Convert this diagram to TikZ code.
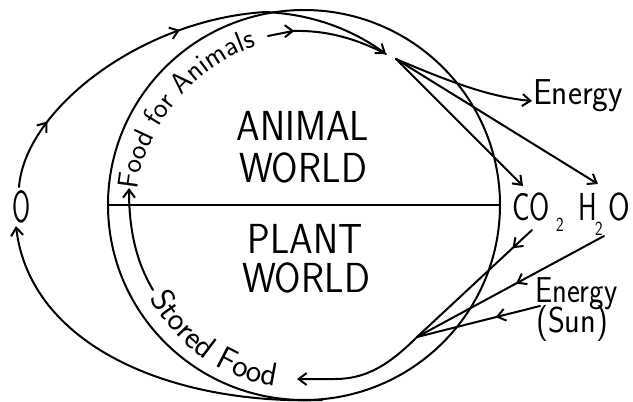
\documentclass[tikz,border=0pt]{standalone}
\usepackage{fontspec}
\usetikzlibrary{arrows.meta,decorations.markings,decorations.text}
\tikzset{
  ln/.style={line width=2pt, line cap=round, line join=round},
  tipend/.style={-{Straight Barb[length=8pt,width=12pt]}},
  marr/.style={postaction={decorate},decoration={markings,mark=at position #1 with {\arrow{Straight Barb[length=8pt,width=12pt]}}}},
  marrtwo/.style 2 args={postaction={decorate},decoration={markings,
     mark=at position #1 with {\arrow{Straight Barb[length=8pt,width=12pt]}},
     mark=at position #2 with {\arrow{Straight Barb[length=8pt,width=12pt]}}}},
  bigtxt/.style={font=\sffamily\fontsize{42}{42}\selectfont, inner sep=0pt, anchor=base},
  chem/.style={font=\sffamily\fontsize{39}{39}\selectfont, inner sep=0pt, anchor=base west},
  subs/.style={font=\sffamily\fontsize{20}{20}\selectfont, inner sep=0pt, anchor=base west},
  lbl/.style={font=\sffamily\fontsize{36}{36}\selectfont, inner sep=0pt, anchor=base west},
}
\begin{document}
\begin{tikzpicture}[x=1pt,y=-1pt]
\useasboundingbox (0,0) rectangle (633,402);
% key points
\coordinate (ctr) at (304,205);
\coordinate (dl) at (108,205);
\coordinate (dr) at (500,205);
\coordinate (Otop) at (19,187);
\coordinate (Obot) at (16,226);
\coordinate (topx) at (265,12);
\coordinate (botx) at (322,400);
\coordinate (T) at (386,54);
\coordinate (S) at (396,59);
\coordinate (fa1) at (268,36);
\coordinate (fa2) at (293,31);
\coordinate (eT) at (532,101);
\coordinate (cT) at (523,186);
\coordinate (hT) at (598,184);
\coordinate (cB) at (532,230);
\coordinate (hB) at (604,236);
\coordinate (sB) at (540,306);
\coordinate (Cv) at (417,337);
\coordinate (sfT) at (297,379);
\coordinate (ia0) at (153,290);
\coordinate (ia1) at (129,188);
\coordinate (fp0) at (138,190);
\coordinate (fp1) at (270,44);
\coordinate (sp0) at (150,298);
\coordinate (sp1) at (292,388);

% world circle and divider
\draw[ln] (ctr) ellipse [x radius=196, y radius=195];
\draw[ln] (dl) -- (dr);

% oxygen cycle
\draw[ln, tipend] (botx) .. controls (170,405) and (30,345) .. (Obot);
\draw[ln, tipend, marrtwo={0.16}{0.52}] (Otop) .. controls (25,110) and (140,20) .. (topx) .. controls (310,14) and (350,28) .. (T);
\draw[ln, marr=0.22] (fa1) -- (fa2) .. controls (325,30) and (355,38) .. (T);

% animal outputs
\draw[ln, tipend] (S) .. controls (450,82) and (490,97) .. (eT);
\draw[ln, tipend] (S) -- (cT);
\draw[ln, tipend] (S) -- (hT);

% plant inputs
\draw[ln, marr=0.17] (cB) -- (Cv);
\draw[ln, marr=0.47] (hB) -- (Cv);
\draw[ln, marr=0.36] (sB) -- (Cv);
\draw[ln, tipend] (Cv) .. controls (388,366) and (365,379) .. (335,379) -- (sfT);
\draw[ln, tipend] (ia0) .. controls (137,263) and (129,232) .. (ia1);

% texts along paths
\path[decorate, decoration={text along path, text={|\sffamily\fontsize{29}{29}\selectfont|Food for Animals}, text align=left}] (fp0) .. controls (142,130) and (200,55) .. (fp1);
\path[decorate, decoration={text along path, text={|\sffamily\fontsize{33}{33}\selectfont|Stored Food}, text align=left}] (sp0) .. controls (170,335) and (215,385) .. (sp1);

% labels
\node[bigtxt] (ox) at (22,222) {\scalebox{0.58}[1]{\fontsize{45}{45}\selectfont O}};
\node[bigtxt] (an1) at (303,140) {\scalebox{0.9}[1]{ANIMAL}};
\node[bigtxt] (an2) at (303,182) {\scalebox{0.91}[1]{WORLD}};
\node[bigtxt] (pl1) at (305,253) {\scalebox{0.9}[1]{PLANT}};
\node[bigtxt] (pl2) at (306,292) {\scalebox{0.91}[1]{WORLD}};
\node[chem] (co) at (512,220) {\scalebox{0.75}[1]{CO}};
\node[subs] (cs) at (556,231) {\scalebox{0.8}[1]{2}};
\node[chem] (hh) at (578,220) {\scalebox{0.72}[1]{H}};
\node[subs] (hs) at (595,235) {\scalebox{0.8}[1]{2}};
\node[chem] (oo) at (608,220) {\scalebox{0.8}[1]{O}};
\node[lbl] (en1) at (533,104) {\scalebox{0.93}[1]{Energy}};
\node[lbl] (en2) at (535,302) {\scalebox{0.85}[1]{Energy}};
\node[lbl] (sun) at (536,332) {\scalebox{0.9}[1]{(Sun)}};
\end{tikzpicture}
\end{document}
